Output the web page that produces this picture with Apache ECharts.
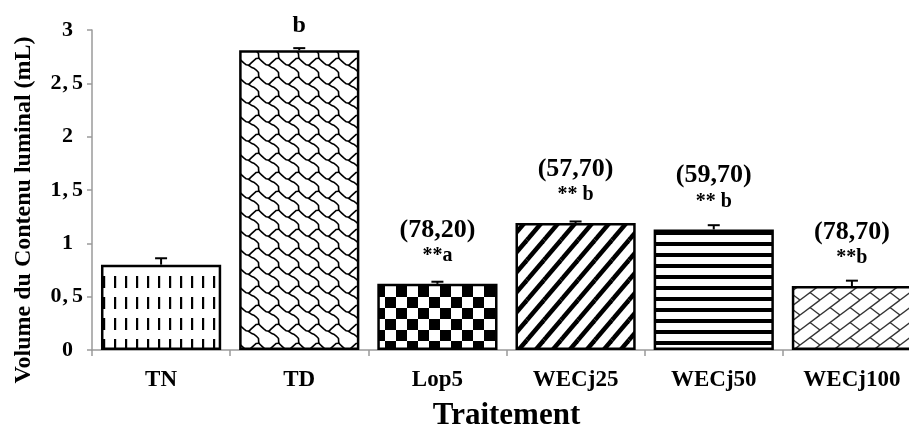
<!DOCTYPE html>
<html><head><meta charset="utf-8">
<script src="https://cdn.jsdelivr.net/npm/echarts@6/dist/echarts.min.js"></script>
<style>html,body{margin:0;padding:0;background:#fff}#c{width:909px;height:430px}</style>
</head><body><div id="c"></div>
<script>
const categories = ['TN', 'TD', 'Lop5', 'WECj25', 'WECj50', 'WECj100'];
const values = [0.80, 2.81, 0.62, 1.19, 1.13, 0.60];
const errors = [0.06, 0.02, 0.02, 0.015, 0.04, 0.05];
const pctLabels = ['', '', '(78,20)', '(57,70)', '(59,70)', '(78,70)'];
const sigLabels = ['', 'b', '**a', '** b', '** b', '**b'];
const yTicks = [0, 0.5, 1, 1.5, 2, 2.5, 3];
const xTitle = 'Traitement';
const yTitle = 'Volume du Contenu luminal (mL)';

const FONT = '"Liberation Serif", "Times New Roman", serif';

function tile(w, h, draw) {
  const c = document.createElement('canvas');
  c.width = w; c.height = h;
  const g = c.getContext('2d');
  g.fillStyle = '#fff'; g.fillRect(0, 0, w, h);
  draw(g, w, h);
  return c;
}
function wrapDraw(g, w, h, fn) {
  for (let i = -1; i <= 1; i++) for (let j = -1; j <= 1; j++) {
    g.save(); g.translate(i * w, j * h); fn(g); g.restore();
  }
}
function poly(g, pts, sx, sy) {
  g.beginPath();
  pts.forEach((p, k) => { if (k === 0) g.moveTo(p[0] * sx, p[1] * sy); else g.lineTo(p[0] * sx, p[1] * sy); });
  g.stroke();
}
const patterns = [
  // TN: vertical dashes
  tile(11, 21, (g) => { g.fillStyle = '#000'; g.fillRect(4, 3, 2.2, 12); }),
  // TD: shingle
  tile(20, 19, (g, w, h) => {
    const sx = w / 8, sy = h / 8;
    g.strokeStyle = '#000'; g.lineWidth = 1.6; g.lineJoin = 'round'; g.lineCap = 'round';
    wrapDraw(g, w, h, (gg) => {
      poly(gg, [[-0.5, 0.5], [0.5, 1.5], [1.5, 2.5], [2.5, 3.3], [3.5, 3.5], [4.5, 4.3], [5.5, 4.7], [6.5, 5.5], [7.4, 6.5], [7.5, 8.5]], sx, sy);
      poly(gg, [[7.5, 0.5], [6.5, 0.6], [5.5, 1.5], [4.5, 2.5], [3.5, 3.5]], sx, sy);
    });
  }),
  // Lop5: checkerboard
  tile(22, 22, (g) => { g.fillStyle = '#000'; g.fillRect(0, 0, 11, 11); g.fillRect(11, 11, 11, 11); }),
  // WECj25: wide upward diagonal
  tile(17, 20, (g, w, h) => {
    g.strokeStyle = '#000'; g.lineWidth = 4.5;
    wrapDraw(g, w, h, (gg) => { gg.beginPath(); gg.moveTo(0, h); gg.lineTo(w, 0); gg.stroke(); });
  }),
  // WECj50: wide horizontal
  tile(4, 11, (g) => { g.fillStyle = '#000'; g.fillRect(0, 0, 4, 4); }),
  // WECj100: diagonal brick
  tile(20, 15, (g, w, h) => {
    g.strokeStyle = '#333'; g.lineWidth = 1.4;
    wrapDraw(g, w, h, (gg) => {
      gg.beginPath(); gg.moveTo(0, h); gg.lineTo(w, 0); gg.stroke();
      gg.beginPath(); gg.moveTo(w / 2, h / 2); gg.lineTo(w, h); gg.stroke();
    });
  })
];

const chart = echarts.init(document.getElementById('c'));
const barData = values.map((v, i) => {
  const item = {
    value: v,
    itemStyle: { color: { image: patterns[i], repeat: 'repeat' } }
  };
  if (i === 0) item.label = { show: false };
  else if (i === 1) item.label = { show: true, distance: 11, formatter: '{b|' + sigLabels[i] + '}' };
  else item.label = { show: true, distance: 18, formatter: '{p|' + pctLabels[i] + '}\n{s|' + sigLabels[i] + '}' };
  return item;
});

function tickLabel(v) {
  if (Number.isInteger(v)) return '{i|' + v + '}';
  const parts = String(v).split('.');
  return '{d|' + parts[0] + '}{c|,}{d|' + parts[1] + '}';
}
const tickStyle = { fontFamily: FONT, fontWeight: 'bold', fontSize: 22, color: '#000' };

chart.setOption({
  animation: false,
  backgroundColor: '#fff',
  grid: { left: 92, right: -12, top: 30, bottom: 80, containLabel: false, outerBoundsMode: 'none' },
  xAxis: {
    type: 'category',
    data: categories,
    name: xTitle,
    nameLocation: 'middle',
    nameGap: 50,
    nameTextStyle: { fontFamily: FONT, fontWeight: 'bold', fontSize: 31, color: '#000' },
    axisLine: { lineStyle: { color: '#9a9a9a', width: 1.5 } },
    axisTick: { show: true, length: 6, lineStyle: { color: '#9a9a9a', width: 1.5 } },
    axisLabel: { fontFamily: FONT, fontWeight: 'bold', fontSize: 23, color: '#000', margin: 19 }
  },
  yAxis: {
    type: 'value',
    min: yTicks[0], max: yTicks[yTicks.length - 1], interval: 0.5,
    splitLine: { show: false },
    axisLine: { show: true, lineStyle: { color: '#9a9a9a', width: 1.5 } },
    axisTick: { show: true, length: 5, lineStyle: { color: '#9a9a9a', width: 1.5 } },
    axisLabel: {
      fontFamily: FONT, fontWeight: 'bold', fontSize: 22, color: '#000', margin: 9,
      formatter: tickLabel,
      rich: {
        i: Object.assign({ padding: [0, 10, 0, 0] }, tickStyle),
        d: Object.assign({}, tickStyle),
        c: Object.assign({ padding: [0, 4, 0, 1] }, tickStyle)
      }
    }
  },
  graphic: [{
    type: 'text', x: 24, y: 210, rotation: Math.PI / 2,
    style: { text: yTitle, font: 'bold 24px ' + FONT, fill: '#000', textAlign: 'center', textVerticalAlign: 'middle' }
  }],
  series: [{
    type: 'bar',
    data: barData,
    barCategoryGap: '13%',
    itemStyle: { borderColor: '#000', borderWidth: 2.5 },
    label: {
      position: 'top', color: '#000',
      rich: {
        p: { fontFamily: FONT, fontWeight: 'bold', fontSize: 26, lineHeight: 32, color: '#000', align: 'center' },
        s: { fontFamily: FONT, fontWeight: 'bold', fontSize: 20, lineHeight: 20, color: '#000', align: 'center' },
        b: { fontFamily: FONT, fontWeight: 'bold', fontSize: 24, lineHeight: 26, color: '#000', align: 'center' }
      }
    },
    z: 2
  }, {
    type: 'custom',
    data: values.map((v, i) => [i, v, v + errors[i]]),
    encode: { x: 0, y: [1, 2] },
    renderItem: (params, api) => {
      const b = api.coord([api.value(0), api.value(1)]);
      const t = api.coord([api.value(0), api.value(2)]);
      return { type: 'group', children: [
        { type: 'line', shape: { x1: b[0], y1: b[1], x2: b[0], y2: t[1] }, style: { stroke: '#000', lineWidth: 2 } },
        { type: 'line', shape: { x1: b[0] - 6, y1: t[1], x2: b[0] + 6, y2: t[1] }, style: { stroke: '#000', lineWidth: 2 } }
      ] };
    },
    z: 5
  }]
});
</script></body></html>
